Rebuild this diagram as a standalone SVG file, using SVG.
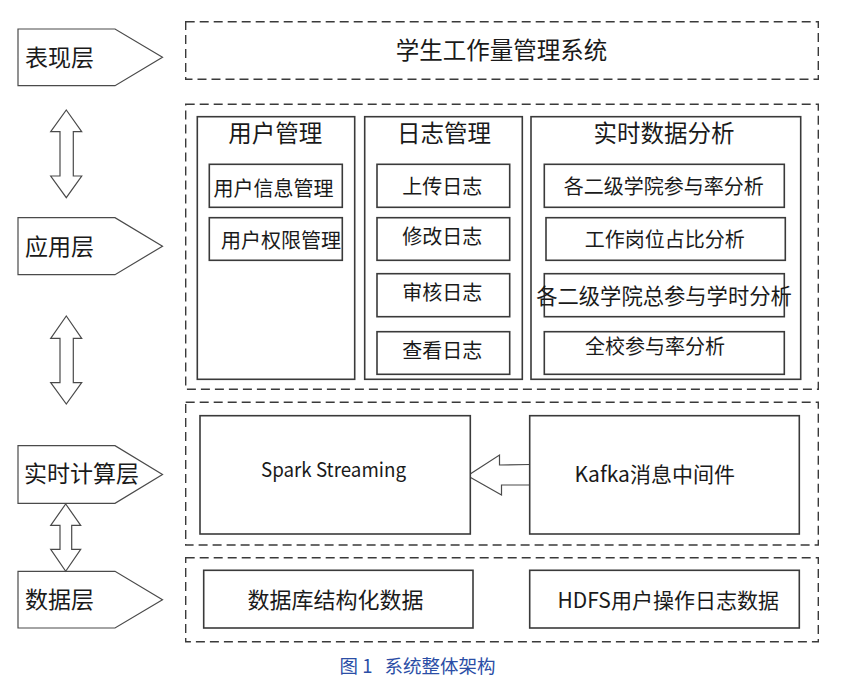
<svg xmlns="http://www.w3.org/2000/svg" width="856" height="679" viewBox="0 0 856 679">
<style>
  .bg { fill: #ffffff; }
  .dash { fill: none; stroke: #3a3a3a; stroke-width: 1.4; stroke-dasharray: 9 5; }
  .box { fill: #ffffff; stroke: #3a3a3a; stroke-width: 1.6; }
  .tag { fill: #ffffff; stroke: #4a4a4a; stroke-width: 1.2; }
  .dbl { fill: #ffffff; stroke: #4a4a4a; stroke-width: 1.2; }
  text { font-family: "Noto Sans CJK SC", "Noto Sans", sans-serif; fill: #1a1a1a; }
  .lbl { font-size: 23px; }
  .ttl { font-size: 23.5px; text-anchor: middle; }
  .sub { font-size: 20px; text-anchor: middle; }
  .big { font-size: 22px; }
  .lat { font-size: 21px; }
  .cap { font-size: 18.5px; fill: #2b4ea6; }
</style>
<rect class="bg" x="0" y="0" width="856" height="679"/>

<g id="layer-labels">
  <g id="label-presentation">
    <polygon class="tag" points="18,29 115,29 162.5,57.3 115,85.7 18,85.7"/>
    <text class="lbl" x="25" y="66.2">表现层</text>
  </g>
  <g id="label-application">
    <polygon class="tag" points="18,217.7 115,217.7 162.5,246.2 115,274.7 18,274.7"/>
    <text class="lbl" x="25" y="254.7">应用层</text>
  </g>
  <g id="label-realtime">
    <polygon class="tag" points="18,445.7 115,445.7 162.5,474.5 115,503.3 18,503.3"/>
    <text class="lbl" x="24" y="482.4">实时计算层</text>
  </g>
  <g id="label-data">
    <polygon class="tag" points="18,571.3 115,571.3 162.5,599.7 115,628 18,628"/>
    <text class="lbl" x="25" y="607.9">数据层</text>
  </g>
</g>

<g id="connectors">
  <path class="dbl" d="M66.3,110 L81.7,131.7 L73.3,131.7 L73.3,176 L81.7,176 L66.3,197.7 L50.7,176 L60,176 L60,131.7 L50.7,131.7 Z"/>
  <path class="dbl" d="M66.3,316 L81.7,338.3 L73.3,338.3 L73.3,382.7 L81.7,382.7 L66.3,404 L50.7,382.7 L60,382.7 L60,338.3 L50.7,338.3 Z"/>
  <path class="dbl" d="M65.7,504 L80.7,525.3 L71.7,525.3 L71.7,549.3 L80.7,549.3 L65.7,571.3 L50.7,549.3 L60,549.3 L60,525.3 L50.7,525.3 Z"/>
  <path class="dbl" d="M529.7,464.5 L499.5,465 L499.5,455 L467.5,475.7 L501.5,495 L501.5,485 L529.7,485"/>
</g>

<g id="layer-presentation">
  <rect class="dash" x="185.7" y="21.7" width="632.6" height="57.6"/>
  <text class="ttl" x="501.5" y="58.6">学生工作量管理系统</text>
</g>

<g id="layer-application">
  <rect class="dash" x="185.7" y="104.3" width="632.6" height="285"/>
  <g id="col-user">
    <rect class="box" x="197.3" y="116.7" width="157.4" height="262.6"/>
    <text class="ttl" x="275.3" y="141.7">用户管理</text>
    <g id="user-info"><rect class="box" x="209.3" y="164.3" width="133" height="43"/><text class="sub" x="273.5" y="196">用户信息管理</text></g>
    <g id="user-perm"><rect class="box" x="209.3" y="217.7" width="133" height="42.6"/><text class="sub" x="281" y="247.9">用户权限管理</text></g>
  </g>
  <g id="col-log">
    <rect class="box" x="364.7" y="116.7" width="157.6" height="262.6"/>
    <text class="ttl" x="444" y="141.7">日志管理</text>
    <g id="log-upload"><rect class="box" x="377" y="164.3" width="132.7" height="43"/><text class="sub" x="442.3" y="194">上传日志</text></g>
    <g id="log-edit"><rect class="box" x="377" y="217.7" width="132.7" height="42.6"/><text class="sub" x="442.3" y="244">修改日志</text></g>
    <g id="log-review"><rect class="box" x="377" y="273.7" width="132.7" height="43"/><text class="sub" x="442.3" y="300.1">审核日志</text></g>
    <g id="log-view"><rect class="box" x="377" y="331.7" width="132.7" height="42.6"/><text class="sub" x="442.3" y="358.4">查看日志</text></g>
  </g>
  <g id="col-analysis">
    <rect class="box" x="531" y="116.7" width="269.7" height="262.6"/>
    <text class="ttl" x="664" y="141.7">实时数据分析</text>
    <g id="ana-college"><rect class="box" x="544.3" y="164.3" width="240" height="43"/><text class="sub" x="663.8" y="193.6">各二级学院参与率分析</text></g>
    <g id="ana-post"><rect class="box" x="546" y="217.7" width="239.3" height="42.6"/><text class="sub" x="664.7" y="246.6">工作岗位占比分析</text></g>
    <g id="ana-hours"><rect class="box" x="544.3" y="273.7" width="240" height="43"/><text class="sub" x="664" y="303.8" style="font-size:21.3px">各二级学院总参与学时分析</text></g>
    <g id="ana-school"><rect class="box" x="544.3" y="331.7" width="240" height="42.6"/><text class="sub" x="655" y="353.8">全校参与率分析</text></g>
  </g>
</g>

<g id="layer-realtime">
  <rect class="dash" x="185.7" y="402.3" width="632.6" height="142.7"/>
  <g id="spark"><rect class="box" x="200" y="415.7" width="270.3" height="118.3"/><text class="lat" x="261" y="477.3" style="font-size:20px" textLength="145" lengthAdjust="spacingAndGlyphs">Spark Streaming</text></g>
  <g id="kafka"><rect class="box" x="529.7" y="415.7" width="269.6" height="118.3"/><text class="lat" x="574.5" y="482.3">Kafka消息中间件</text></g>
</g>

<g id="layer-data">
  <rect class="dash" x="185.7" y="557.7" width="632.6" height="84"/>
  <g id="db"><rect class="box" x="203.7" y="570.3" width="269.3" height="57.7"/><text class="big" x="247.5" y="607.6">数据库结构化数据</text></g>
  <g id="hdfs"><rect class="box" x="529.7" y="570.3" width="269.6" height="57.7"/><text class="lat" x="557.5" y="607.7">HDFS用户操作日志数据</text></g>
</g>

<text class="cap" y="672.8"><tspan x="339.5">图 1</tspan><tspan x="384.5">系统整体架构</tspan></text>
</svg>
